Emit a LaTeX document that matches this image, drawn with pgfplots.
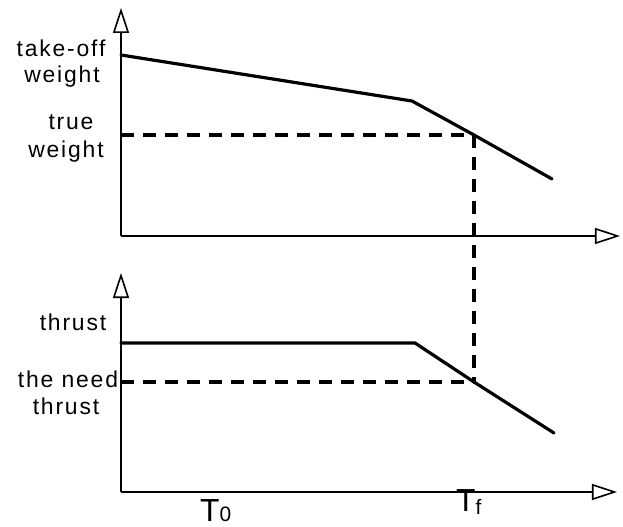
\documentclass[border=0pt]{standalone}
\usepackage{pgfplots}
\pgfplotsset{compat=1.18}
\usetikzlibrary{arrows.meta}
\usepackage{fontspec}
\setmainfont{Liberation Sans}
\newfontfamily\lbl[LetterSpace=8]{Liberation Sans}

\pgfplotsset{
  sketch/.style={
    x=1bp, y=1bp,
    axis lines=left,
    xtick=\empty, ytick=\empty,
    clip=false,
    axis line style={line width=1.6bp,
      -{Triangle[open, length=25bp, width=16bp, line width=1.6bp]}},
  },
  curve/.style={black, line width=3.2bp, line join=round, line cap=round},
  guide/.style={black, line width=3.4bp, dash pattern=on 13bp off 9bp},
}
\newcommand{\lab}{\lbl\fontsize{23}{25}\selectfont}

\begin{document}
\begin{tikzpicture}
\useasboundingbox (-121bp,-35bp) rectangle (502bp,492bp);

% upper panel: weight
\begin{axis}[sketch, at={(0bp,256bp)},
  xmin=121, xmax=620, ymin=291, ymax=519]
\addplot[curve] coordinates {(121,472) (412,426) (474,392) (552,348)};
\addplot[guide] coordinates {(121,392) (474,392)};
\node[anchor=base] at (axis cs:61,470) {\lab take-off};
\node[anchor=base] at (axis cs:62,444) {\lab weight};
\node[anchor=base] at (axis cs:71,397) {\lab true};
\node[anchor=base] at (axis cs:66,369) {\lab weight};
\end{axis}

% lower panel: thrust
\begin{axis}[sketch, at={(0bp,0bp)},
  xmin=121, xmax=617, ymin=35, ymax=254]
\addplot[curve] coordinates {(121,184) (415,184) (474,145) (554,94)};
\addplot[guide] coordinates {(121,145) (474,145)};
\addplot[guide] coordinates {(474,392) (474,145)};
\node[anchor=base] at (axis cs:73,196) {\lab thrust};
\node[anchor=base] at (axis cs:68,139) {\lab the need};
\node[anchor=base] at (axis cs:66,112) {\lab thrust};
\node[anchor=base west, inner sep=0pt] at (axis cs:200,6)
  {\fontsize{32}{34}\selectfont T\fontsize{21}{23}\selectfont 0};
\node[anchor=base west, inner sep=0pt] at (axis cs:456,15)
  {\fontsize{32}{34}\selectfont T\fontsize{21}{23}\selectfont\raisebox{-2bp}{f}};
\end{axis}
\end{tikzpicture}
\end{document}
